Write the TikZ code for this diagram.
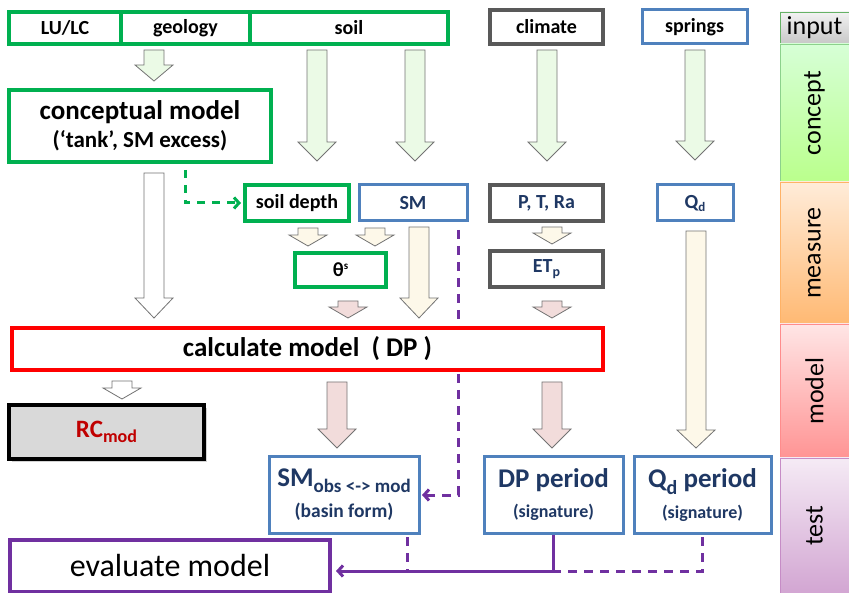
\documentclass[tikz,border=0pt]{standalone}
\usepackage{fontspec}
\setmainfont{Carlito}
\usetikzlibrary{arrows.meta,shadows}

\definecolor{boxgreen}{HTML}{00B050}
\definecolor{boxblue}{HTML}{4F81BD}
\definecolor{boxgrey}{HTML}{595959}
\definecolor{boxred}{HTML}{FF0000}
\definecolor{boxpurple}{HTML}{7030A0}
\definecolor{navytext}{HTML}{1F3864}
\definecolor{rctext}{HTML}{C00000}
\definecolor{fillgreen}{HTML}{EBFAE6}
\definecolor{fillcream}{HTML}{FDF8E9}
\definecolor{fillpink}{HTML}{F2DCDB}

\newcommand{\fsz}[2]{\fontsize{#1}{#2}\selectfont}
% block arrow: fill, x, top, tip, head length
\newcommand{\blkarrow}[5]{%
  \draw[draw=black!55, line width=0.8pt, fill=#1]
    (#2-10,#3) -- (#2+10,#3) -- (#2+10,#4-#5) -- (#2+19,#4-#5)
    -- (#2,#4) -- (#2-19,#4-#5) -- (#2-10,#4-#5) -- cycle;}

\tikzset{
  box/.style={draw, line width=3.5pt, inner sep=0pt, outer sep=0pt, fill=white, align=center},
  greenbox/.style={box, draw=boxgreen},
  bluebox/.style={box, draw=boxblue, line width=3pt, text=navytext},
  greybox/.style={box, draw=boxgrey},
  band/.style={draw, line width=0.8pt, minimum width=69pt, inner sep=0pt, outer sep=0pt},
  bandtext/.style={rotate=90, font=\fsz{26}{26}},
  busline/.style={draw=boxpurple, line width=3pt},
  busdash/.style={busline, dash pattern=on 9pt off 7pt},
  tipbarb/.style={-{Straight Barb[length=5pt, width=11pt]}},
}

\begin{document}
\begin{tikzpicture}[x=1pt, y=-1pt]
\useasboundingbox (0,0) rectangle (849,593);

% input row
\node[greenbox, minimum width=112pt, minimum height=32pt, font=\bfseries\fsz{20}{24}] (lulc) at (65,28) {LU/LC};
\node[greenbox, minimum width=129pt, minimum height=32pt, font=\bfseries\fsz{20}{24}] (geology) at (185.5,28) {geology};
\node[greenbox, minimum width=198pt, minimum height=32pt, font=\bfseries\fsz{20}{24}] (soil) at (349,28) {soil};
\node[greybox, minimum width=113pt, minimum height=34pt, font=\bfseries\fsz{20}{24}] (climate) at (546.5,27) {climate};
\node[bluebox, text=black, minimum width=105pt, minimum height=34pt, font=\bfseries\fsz{20}{24}] (springs) at (694.5,27) {springs};

% arrows from input
\blkarrow{fillgreen}{154}{50}{81}{16}
\blkarrow{fillgreen}{317}{50}{161}{19}
\blkarrow{fillgreen}{415}{50}{161}{19}
\blkarrow{fillgreen}{547}{50}{161}{19}
\blkarrow{fillgreen}{695}{50}{160}{19}

\node[greenbox, minimum width=262pt, minimum height=72pt, font=\bfseries\fsz{23}{28}] (concept) at (140,126)
  {\fsz{27}{28}conceptual model\\\fsz{23}{28}(‘tank’, SM excess)};

% measured
\node[greenbox, minimum width=104pt, minimum height=36pt, font=\bfseries\fsz{20}{24}] (soildepth) at (297,203) {soil depth};
\node[bluebox, minimum width=108pt, minimum height=36pt, font=\bfseries\fsz{20}{24}] (SM) at (413,203) {SM};
\node[greybox, text=navytext, minimum width=113pt, minimum height=36pt, font=\bfseries\fsz{20}{24}] (ptra) at (546.5,203) {P, T, Ra};
\node[bluebox, minimum width=76pt, minimum height=36pt, font=\bfseries\fsz{20}{24}] (Qd) at (695,203) {Q\raisebox{-3pt}{\fsz{13}{13}d}};

\coordinate (gtap) at ([xshift=45pt, yshift=-8pt]concept.south);
\draw[draw=boxgreen, line width=3pt, dash pattern=on 8pt off 7pt, tipbarb, shorten >=4pt] (gtap) |- (soildepth.west);

\coordinate (smtap) at ([xshift=-9pt, yshift=-9pt]SM.south east);
\draw[busdash, tipbarb, shorten >=3pt] (smtap) |- (419,495);

\blkarrow{white}{154}{173}{318}{20}
\blkarrow{fillcream}{308}{228}{246}{11}
\blkarrow{fillcream}{375}{228}{246}{11}
\blkarrow{fillcream}{419}{227}{318}{20}
\blkarrow{fillcream}{552}{227}{244}{11}
\blkarrow{fillcream}{696}{231}{448}{18}

\node[greenbox, minimum width=91pt, minimum height=34pt, font=\bfseries\fsz{20}{24}] (theta) at (340.5,270) {θ\raisebox{7pt}{\fsz{11}{11}s}};
\node[greybox, text=navytext, minimum width=113pt, minimum height=36pt, font=\bfseries\fsz{20}{24}] (etp) at (546.5,269) {ET\raisebox{-4pt}{\fsz{14}{14}p}};

\blkarrow{fillpink}{348}{301}{318}{11}
\blkarrow{fillpink}{552}{301}{318}{11}

% model
\node[box, draw=boxred, minimum width=591pt, minimum height=42pt, font=\bfseries\fsz{27}{30}] (calc) at (307.5,349) {calculate model~~( DP )};

\blkarrow{white}{122}{381}{399}{11}
\blkarrow{fillpink}{337}{382}{448}{19}
\blkarrow{fillpink}{552}{382}{448}{19}

\node[box, draw=black, fill=black!15, minimum width=195pt, minimum height=54pt, text=rctext, font=\bfseries\fsz{25}{28},
  drop shadow={opacity=0.35, shadow xshift=3pt, shadow yshift=-3pt}] (rc) at (106.5,432) {RC\raisebox{-5pt}{\fsz{18}{18}mod}};

% test
\node[bluebox, minimum width=150pt, minimum height=76pt, font=\bfseries\fsz{19.5}{31}] (smobs) at (344,495)
  {\fsz{27}{31}SM\raisebox{-6pt}{\fsz{19}{31}obs <-> mod}\\\fsz{19.5}{31}(basin form)};
\node[bluebox, minimum width=139pt, minimum height=76pt, font=\bfseries\fsz{18}{30}] (dpper) at (553.5,495)
  {\fsz{27}{30}DP period\\\fsz{18}{30}(signature)};
\node[bluebox, minimum width=137pt, minimum height=76pt, font=\bfseries\fsz{18}{31}] (qdper) at (702.5,495)
  {\fsz{27}{31}Q\raisebox{-7pt}{\fsz{20}{31}d}~period\\\fsz{18}{31}(signature)};

\node[box, draw=boxpurple, minimum width=320pt, minimum height=52pt, font=\fsz{32}{34}] (evalm) at (170,566) {evaluate model};

\coordinate (bus) at (555,571);
\coordinate (evtip) at ([xshift=6pt]evalm.east);
\coordinate (smdrop) at ([xshift=63pt, yshift=-4pt]smobs.south);
\draw[busdash] (smdrop) -- (smdrop |- bus);
\draw[busdash] ([yshift=-4pt]qdper.south) -- (qdper.south |- bus) -- (dpper.south |- bus);
\draw[busline, tipbarb] ([yshift=-2pt]dpper.south) -- (dpper.south |- bus) -- (evtip |- bus);

% stage column
\node[band, draw=green!50!black!60, top color=black!5, bottom color=black!22, minimum height=32pt, font=\fsz{26}{26}] (input) at (814.5,28) {input};
\node[band, draw=green!60!black!45, top color=green!20!white!80, bottom color=green!60!yellow!45, minimum height=138pt] (stconcept) at (814.5,113) {};
\node[bandtext] at (stconcept) {concept};
\node[band, draw=orange!60, top color=orange!15, bottom color=orange!55, minimum height=142pt] (stmeasure) at (814.5,253) {};
\node[bandtext] at (stmeasure) {measure};
\node[band, draw=red!45, top color=red!10, bottom color=red!42, minimum height=134pt] (stmodel) at (814.5,391) {};
\node[bandtext] at (stmodel) {model};
\node[band, draw=violet!45, top color=violet!8, bottom color=violet!35, minimum height=135pt] (sttest) at (814.5,525.5) {};
\node[bandtext] at (sttest) {test};
\end{tikzpicture}
\end{document}
